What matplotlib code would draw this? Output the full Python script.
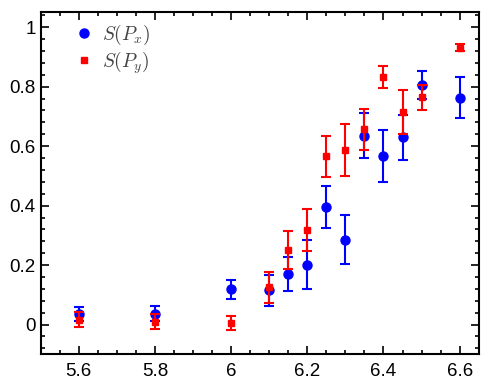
import matplotlib
matplotlib.use("Agg")
import matplotlib.pyplot as plt
from matplotlib.ticker import MultipleLocator
from matplotlib.lines import Line2D

x = [5.6, 5.8, 6.0, 6.1, 6.15, 6.2, 6.25, 6.3, 6.35, 6.4, 6.45, 6.5, 6.6]
px = [0.035, 0.036, 0.119, 0.115, 0.171, 0.201, 0.395, 0.286, 0.635, 0.568, 0.630, 0.805, 0.762]
px_err = [0.024, 0.025, 0.032, 0.052, 0.057, 0.082, 0.070, 0.081, 0.075, 0.087, 0.075, 0.046, 0.069]
py = [0.017, 0.009, 0.006, 0.126, 0.250, 0.317, 0.566, 0.587, 0.656, 0.831, 0.716, 0.765, 0.931]
py_err = [0.024, 0.025, 0.023, 0.052, 0.064, 0.071, 0.069, 0.089, 0.070, 0.037, 0.074, 0.042, 0.012]
xticks = [5.6, 5.8, 6.0, 6.2, 6.4, 6.6]
xticklabels = ["5.6", "5.8", "6", "6.2", "6.4", "6.6"]
yticks = [0, 0.2, 0.4, 0.6, 0.8, 1.0]
yticklabels = ["0", "0.2", "0.4", "0.6", "0.8", "1"]
labels = [r'$S(P_x)$', r'$S(P_y)$']

plt.rcParams['font.family'] = ['Liberation Sans', 'DejaVu Sans']
plt.rcParams['mathtext.fontset'] = 'cm'

fig = plt.figure(figsize=(4.98, 3.88), dpi=100)
ax = fig.add_axes([40.7/498, 1-354.3/388, (478.7-40.7)/498, (354.3-12.3)/388])

ax.errorbar(x, px, yerr=px_err, fmt='o', color='#0000ff', ecolor='#0000ff',
            markersize=6.5, capsize=3.5, elinewidth=1.5, capthick=1.5, zorder=2)
ax.errorbar(x, py, yerr=py_err, fmt='s', color='#ff0000', ecolor='#ff0000',
            markersize=5, capsize=3.5, elinewidth=1.5, capthick=1.5, zorder=3)

ax.set_xlim(5.5, 6.65)
ax.set_ylim(-0.1, 1.05)
ax.set_xticks(xticks)
ax.set_xticklabels(xticklabels)
ax.set_yticks(yticks)
ax.set_yticklabels(yticklabels)
ax.xaxis.set_minor_locator(MultipleLocator(0.05))
ax.yaxis.set_minor_locator(MultipleLocator(0.04))
ax.tick_params(which='both', direction='in', top=True, right=True, labelsize=13.5, width=1.2)
ax.tick_params(which='major', length=6)
ax.tick_params(which='minor', length=3)
ax.tick_params(axis='x', pad=6)
for s in ax.spines.values():
    s.set_linewidth(1.5)

handles = [Line2D([], [], linestyle='none', marker='o', color='#0000ff', markersize=6.5),
           Line2D([], [], linestyle='none', marker='s', color='#ff0000', markersize=5)]
leg = ax.legend(handles, labels, loc='upper left', bbox_to_anchor=(0.036, 1.02), frameon=False,
                fontsize=14, handlelength=1.0, handletextpad=0.45, labelspacing=0.1)
for t in leg.get_texts():
    t.set_color('#444444')

fig.savefig("out.png", dpi=100)
